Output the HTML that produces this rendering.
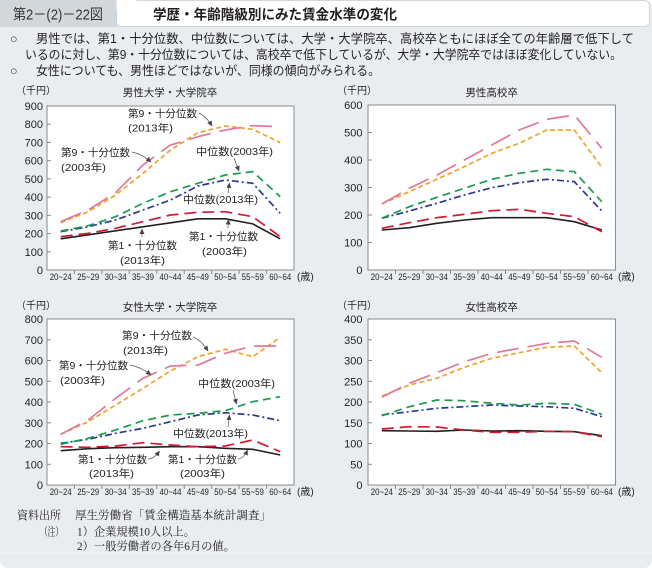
<!DOCTYPE html>
<html><head><meta charset="utf-8"><style>
html,body{margin:0;padding:0;background:#fff;}
svg{display:block;}
.jp{font-family:"Liberation Sans","Noto Sans CJK JP",sans-serif;}
.mc{font-family:"Liberation Serif","Noto Serif CJK SC",serif;}
.yl{font-family:"Liberation Sans",sans-serif;font-size:11px;fill:#231f20;text-anchor:end;}
.xl{font-family:"Liberation Sans",sans-serif;font-size:9px;fill:#231f20;text-anchor:middle;}
.an{font-family:"Liberation Sans","Noto Sans CJK JP",sans-serif;font-size:10.5px;fill:#231f20;}
.ti{font-family:"Liberation Sans","Noto Sans CJK JP",sans-serif;font-size:10.5px;fill:#231f20;text-anchor:middle;}
.un{font-family:"Liberation Sans","Noto Sans CJK JP",sans-serif;font-size:10px;fill:#231f20;}
.k{fill:none;stroke:#231f20;stroke-width:1.6;stroke-linejoin:round;}
.r{fill:none;stroke:#d4182f;stroke-width:1.7;stroke-dasharray:12 6;}
.b{fill:none;stroke:#2a3990;stroke-width:1.7;stroke-dasharray:7 3 2 3;}
.g{fill:none;stroke:#1a9b50;stroke-width:1.7;stroke-dasharray:8 5;}
.o{fill:none;stroke:#f0a330;stroke-width:1.7;stroke-dasharray:5 3;}
.p{fill:none;stroke:#e07a98;stroke-width:1.7;stroke-dasharray:22 9;}
.ax{fill:#fff;stroke:#8a8a8a;stroke-width:1;}
.tk{stroke:#8a8a8a;stroke-width:1;}
.ar{stroke:#555;stroke-width:0.7;fill:none;marker-end:url(#ah);}
</style></head><body>
<svg width="652" height="568" viewBox="0 0 652 568" xmlns="http://www.w3.org/2000/svg">
<defs>
<marker id="ah" markerWidth="6" markerHeight="6" refX="5" refY="3" orient="auto" markerUnits="userSpaceOnUse">
<path d="M0,0.5 L5.5,3 L0,5.5 Z" fill="#444"/>
</marker>
</defs>
<rect x="0" y="0" width="652" height="568" rx="8" fill="#e9edef"/>
<rect x="0" y="0" width="20" height="20" fill="#e9edef"/>
<rect x="0" y="0" width="117" height="27" fill="#d1d7da"/>
<rect x="116.5" y="0.5" width="533" height="26" rx="5" fill="#fff" stroke="#c9ced1" stroke-width="0.8"/>
<rect x="116.5" y="0" width="20" height="10" fill="#fff"/>
<text x="13" y="19.5" class="jp" font-size="14.5" fill="#333" textLength="90" lengthAdjust="spacingAndGlyphs">第2－(2)－22図</text>
<text x="153" y="19.5" class="jp" font-size="14" font-weight="bold" fill="#231f20" textLength="244" lengthAdjust="spacingAndGlyphs">学歴・年齢階級別にみた賃金水準の変化</text>

<g class="jp" font-size="12.5" fill="#231f20">
<text x="10" y="43">○</text>
<text x="36" y="43" textLength="598" lengthAdjust="spacingAndGlyphs">男性では、第1・十分位数、中位数については、大学・大学院卒、高校卒ともにほぼ全ての年齢層で低下して</text>
<text x="25" y="59" textLength="597" lengthAdjust="spacingAndGlyphs">いるのに対し、第9・十分位数については、高校卒で低下しているが、大学・大学院卒ではほぼ変化していない。</text>
<text x="10" y="75">○</text>
<text x="36" y="75" textLength="344" lengthAdjust="spacingAndGlyphs">女性についても、男性ほどではないが、同様の傾向がみられる。</text>
</g>

<!-- ============ TOP LEFT ============ -->
<rect class="ax" x="47" y="106" width="247" height="164"/>
<text class="un" x="16" y="94">（千円）</text>
<text class="ti" x="170" y="96">男性大学・大学院卒</text>
<g class="yl">
<text x="43" y="274">0</text><text x="43" y="255.8">100</text><text x="43" y="237.6">200</text><text x="43" y="219.3">300</text><text x="43" y="201.1">400</text><text x="43" y="182.9">500</text><text x="43" y="164.7">600</text><text x="43" y="146.5">700</text><text x="43" y="128.2">800</text><text x="43" y="110">900</text>
</g>
<g class="tk">
<line x1="47" x2="51" y1="251.8" y2="251.8"/><line x1="47" x2="51" y1="233.6" y2="233.6"/><line x1="47" x2="51" y1="215.3" y2="215.3"/><line x1="47" x2="51" y1="197.1" y2="197.1"/><line x1="47" x2="51" y1="178.9" y2="178.9"/><line x1="47" x2="51" y1="160.7" y2="160.7"/><line x1="47" x2="51" y1="142.5" y2="142.5"/><line x1="47" x2="51" y1="124.2" y2="124.2"/>
<line x1="74.4" x2="74.4" y1="270" y2="274"/><line x1="101.9" x2="101.9" y1="270" y2="274"/><line x1="129.3" x2="129.3" y1="270" y2="274"/><line x1="156.8" x2="156.8" y1="270" y2="274"/><line x1="184.2" x2="184.2" y1="270" y2="274"/><line x1="211.7" x2="211.7" y1="270" y2="274"/><line x1="239.1" x2="239.1" y1="270" y2="274"/><line x1="266.6" x2="266.6" y1="270" y2="274"/>
</g>
<g class="xl">
<text x="60.7" y="280" textLength="22" lengthAdjust="spacingAndGlyphs">20~24</text><text x="88.2" y="280" textLength="22" lengthAdjust="spacingAndGlyphs">25~29</text><text x="115.6" y="280" textLength="22" lengthAdjust="spacingAndGlyphs">30~34</text><text x="143" y="280" textLength="22" lengthAdjust="spacingAndGlyphs">35~39</text><text x="170.5" y="280" textLength="22" lengthAdjust="spacingAndGlyphs">40~44</text><text x="197.9" y="280" textLength="22" lengthAdjust="spacingAndGlyphs">45~49</text><text x="225.3" y="280" textLength="22" lengthAdjust="spacingAndGlyphs">50~54</text><text x="252.8" y="280" textLength="22" lengthAdjust="spacingAndGlyphs">55~59</text><text x="280.2" y="280" textLength="22" lengthAdjust="spacingAndGlyphs">60~64</text>
</g>
<text class="un" x="297" y="280">(歳)</text>
<polyline class="k" points="60.7,238.8 88.2,234.8 115.6,230.8 143,226.8 170.5,222.8 197.9,218.8 225.3,218.8 252.8,223.9 280.2,238.8"/>
<polyline class="r" points="60.7,236.7 88.2,233.3 115.6,228.3 143,221.7 170.5,215 197.9,212.3 225.3,211.7 252.8,216.7 280.2,236.7"/>
<polyline class="b" points="60.7,231.7 88.2,226.7 115.6,220 143,210 170.5,200 197.9,186 225.3,180 252.8,183.3 280.2,213.3"/>
<polyline class="g" points="60.7,231 88.2,225.7 115.6,216.7 143,203.3 170.5,191.7 197.9,183.3 225.3,175 252.8,171.7 280.2,196.7"/>
<polyline class="o" points="60.7,222.7 88.2,211.7 115.6,195 143,173.3 170.5,150 197.9,132.7 225.3,126 252.8,129.3 280.2,142.7"/>
<polyline class="p" points="60.7,221.7 88.2,210 115.6,192.7 143,165 170.5,145 197.9,136.7 225.3,130 252.8,125.7 280.2,126.7"/>
<g class="an">
<text x="128" y="117" textLength="69" lengthAdjust="spacingAndGlyphs">第9・十分位数</text>
<text x="128" y="131.5" textLength="45" lengthAdjust="spacingAndGlyphs">(2013年)</text>
<text x="61" y="156" textLength="69" lengthAdjust="spacingAndGlyphs">第9・十分位数</text>
<text x="61" y="171" textLength="45" lengthAdjust="spacingAndGlyphs">(2003年)</text>
<text x="196" y="155" textLength="77" lengthAdjust="spacingAndGlyphs">中位数(2003年)</text>
<text x="183" y="203" textLength="75" lengthAdjust="spacingAndGlyphs">中位数(2013年)</text>
<text x="108" y="249" textLength="69" lengthAdjust="spacingAndGlyphs">第1・十分位数</text>
<text x="120" y="264" textLength="45" lengthAdjust="spacingAndGlyphs">(2013年)</text>
<text x="189" y="240" textLength="69" lengthAdjust="spacingAndGlyphs">第1・十分位数</text>
<text x="202" y="255" textLength="45" lengthAdjust="spacingAndGlyphs">(2003年)</text>
</g>
<path class="ar" d="M199,113 Q206,116 212,126"/>
<path class="ar" d="M132,152 Q142,154 151,162"/>
<path class="ar" d="M234,158 L239,171"/>
<path class="ar" d="M228,193 L229.5,183"/>
<path class="ar" d="M142,237 L142,229"/>
<path class="ar" d="M228,228 L228.5,219.5"/>

<!-- ============ TOP RIGHT ============ -->
<rect class="ax" x="368" y="105" width="247.5" height="165"/>
<text class="un" x="337" y="94">（千円）</text>
<text class="ti" x="491.7" y="96">男性高校卒</text>
<g class="yl">
<text x="362.5" y="274">0</text><text x="362.5" y="246.5">100</text><text x="362.5" y="219">200</text><text x="362.5" y="191.5">300</text><text x="362.5" y="164">400</text><text x="362.5" y="136.5">500</text><text x="362.5" y="109">600</text>
</g>
<g class="tk">
<line x1="368" x2="372" y1="242.5" y2="242.5"/><line x1="368" x2="372" y1="215" y2="215"/><line x1="368" x2="372" y1="187.5" y2="187.5"/><line x1="368" x2="372" y1="160" y2="160"/><line x1="368" x2="372" y1="132.5" y2="132.5"/>
<line x1="395.5" x2="395.5" y1="270" y2="274"/><line x1="423" x2="423" y1="270" y2="274"/><line x1="450.5" x2="450.5" y1="270" y2="274"/><line x1="478" x2="478" y1="270" y2="274"/><line x1="505.5" x2="505.5" y1="270" y2="274"/><line x1="533" x2="533" y1="270" y2="274"/><line x1="560.5" x2="560.5" y1="270" y2="274"/><line x1="588" x2="588" y1="270" y2="274"/>
</g>
<g class="xl">
<text x="381.8" y="280" textLength="22" lengthAdjust="spacingAndGlyphs">20~24</text><text x="409.3" y="280" textLength="22" lengthAdjust="spacingAndGlyphs">25~29</text><text x="436.8" y="280" textLength="22" lengthAdjust="spacingAndGlyphs">30~34</text><text x="464.3" y="280" textLength="22" lengthAdjust="spacingAndGlyphs">35~39</text><text x="491.8" y="280" textLength="22" lengthAdjust="spacingAndGlyphs">40~44</text><text x="519.3" y="280" textLength="22" lengthAdjust="spacingAndGlyphs">45~49</text><text x="546.8" y="280" textLength="22" lengthAdjust="spacingAndGlyphs">50~54</text><text x="574.3" y="280" textLength="22" lengthAdjust="spacingAndGlyphs">55~59</text><text x="601.8" y="280" textLength="22" lengthAdjust="spacingAndGlyphs">60~64</text>
</g>
<text class="un" x="618" y="280">(歳)</text>
<polyline class="k" points="381.8,230 409.3,227.7 436.8,223.3 464.3,220 491.8,217.7 519.3,217.7 546.8,217.7 574.3,221.7 601.8,230"/>
<polyline class="r" points="381.8,228.3 409.3,222.7 436.8,217.7 464.3,214.3 491.8,210.7 519.3,209.3 546.8,213.3 574.3,216.7 601.8,231.7"/>
<polyline class="b" points="381.8,218.3 409.3,211 436.8,203.3 464.3,195 491.8,187.7 519.3,182.7 546.8,179.3 574.3,181.7 601.8,211"/>
<polyline class="g" points="381.8,218.3 409.3,206.7 436.8,197.3 464.3,188.3 491.8,179.3 519.3,173.3 546.8,169.3 574.3,171.7 601.8,201.7"/>
<polyline class="o" points="381.8,204 409.3,191.7 436.8,179.3 464.3,166.7 491.8,153.3 519.3,143.3 546.8,130 574.3,130 601.8,167.3"/>
<polyline class="p" points="381.8,204 409.3,188.3 436.8,175 464.3,160 491.8,145 519.3,130 546.8,119.3 574.3,115 601.8,148.3"/>

<!-- ============ BOTTOM LEFT ============ -->
<rect class="ax" x="47" y="319" width="247" height="166"/>
<text class="un" x="16" y="309">（千円）</text>
<text class="ti" x="170" y="310.5">女性大学・大学院卒</text>
<g class="yl">
<text x="43" y="489">0</text><text x="43" y="468.3">100</text><text x="43" y="447.5">200</text><text x="43" y="426.8">300</text><text x="43" y="406">400</text><text x="43" y="385.3">500</text><text x="43" y="364.5">600</text><text x="43" y="343.8">700</text><text x="43" y="323">800</text>
</g>
<g class="tk">
<line x1="47" x2="51" y1="464.3" y2="464.3"/><line x1="47" x2="51" y1="443.5" y2="443.5"/><line x1="47" x2="51" y1="422.8" y2="422.8"/><line x1="47" x2="51" y1="402" y2="402"/><line x1="47" x2="51" y1="381.3" y2="381.3"/><line x1="47" x2="51" y1="360.5" y2="360.5"/><line x1="47" x2="51" y1="339.8" y2="339.8"/>
<line x1="74.4" x2="74.4" y1="485" y2="489"/><line x1="101.9" x2="101.9" y1="485" y2="489"/><line x1="129.3" x2="129.3" y1="485" y2="489"/><line x1="156.8" x2="156.8" y1="485" y2="489"/><line x1="184.2" x2="184.2" y1="485" y2="489"/><line x1="211.7" x2="211.7" y1="485" y2="489"/><line x1="239.1" x2="239.1" y1="485" y2="489"/><line x1="266.6" x2="266.6" y1="485" y2="489"/>
</g>
<g class="xl">
<text x="60.7" y="495" textLength="22" lengthAdjust="spacingAndGlyphs">20~24</text><text x="88.2" y="495" textLength="22" lengthAdjust="spacingAndGlyphs">25~29</text><text x="115.6" y="495" textLength="22" lengthAdjust="spacingAndGlyphs">30~34</text><text x="143" y="495" textLength="22" lengthAdjust="spacingAndGlyphs">35~39</text><text x="170.5" y="495" textLength="22" lengthAdjust="spacingAndGlyphs">40~44</text><text x="197.9" y="495" textLength="22" lengthAdjust="spacingAndGlyphs">45~49</text><text x="225.3" y="495" textLength="22" lengthAdjust="spacingAndGlyphs">50~54</text><text x="252.8" y="495" textLength="22" lengthAdjust="spacingAndGlyphs">55~59</text><text x="280.2" y="495" textLength="22" lengthAdjust="spacingAndGlyphs">60~64</text>
</g>
<text class="un" x="297" y="495">(歳)</text>
<polyline class="k" points="60.7,450.7 88.2,448.7 115.6,447.7 143,447.3 170.5,446.7 197.9,446.7 225.3,448.3 252.8,449.3 280.2,455"/>
<polyline class="r" points="60.7,446.7 88.2,447.3 115.6,446 143,442.7 170.5,445 197.9,446.7 225.3,446 252.8,440 280.2,451.7"/>
<polyline class="b" points="60.7,443.3 88.2,439.3 115.6,433.3 143,428.3 170.5,421.7 197.9,415 225.3,412.7 252.8,415 280.2,420.7"/>
<polyline class="g" points="60.7,444.3 88.2,438.3 115.6,430 143,420.7 170.5,415 197.9,413.3 225.3,410.7 252.8,401.7 280.2,396.7"/>
<polyline class="o" points="60.7,434.3 88.2,421.7 115.6,405 143,388.3 170.5,371 197.9,356.7 225.3,349.3 252.8,356.7 280.2,337.3"/>
<polyline class="p" points="60.7,434.3 88.2,420 115.6,398.3 143,378.3 170.5,366 197.9,365 225.3,353.3 252.8,346 280.2,346"/>
<g class="an">
<text x="122" y="339" textLength="70" lengthAdjust="spacingAndGlyphs">第9・十分位数</text>
<text x="123" y="354" textLength="45" lengthAdjust="spacingAndGlyphs">(2013年)</text>
<text x="59" y="369" textLength="69" lengthAdjust="spacingAndGlyphs">第9・十分位数</text>
<text x="60" y="384" textLength="45" lengthAdjust="spacingAndGlyphs">(2003年)</text>
<text x="198" y="387" textLength="77" lengthAdjust="spacingAndGlyphs">中位数(2003年)</text>
<text x="173" y="437" textLength="75" lengthAdjust="spacingAndGlyphs">中位数(2013年)</text>
<text x="78" y="463" textLength="69" lengthAdjust="spacingAndGlyphs">第1・十分位数</text>
<text x="89" y="477" textLength="45" lengthAdjust="spacingAndGlyphs">(2013年)</text>
<text x="168" y="463" textLength="69" lengthAdjust="spacingAndGlyphs">第1・十分位数</text>
<text x="180" y="477" textLength="45" lengthAdjust="spacingAndGlyphs">(2003年)</text>
</g>
<path class="ar" d="M193,337 Q201,340 208,351"/>
<path class="ar" d="M130,365 Q141,367 151,375"/>
<path class="ar" d="M233,390 L236.5,404"/>
<path class="ar" d="M228,427 L229.5,415"/>
<path class="ar" d="M148,459 Q154,459 159.5,451"/>
<path class="ar" d="M238,459 Q244,458 247.5,450"/>

<!-- ============ BOTTOM RIGHT ============ -->
<rect class="ax" x="368" y="319" width="247.5" height="166"/>
<text class="un" x="337" y="309">（千円）</text>
<text class="ti" x="491.7" y="310.5">女性高校卒</text>
<g class="yl">
<text x="362.5" y="489">0</text><text x="362.5" y="468.3">50</text><text x="362.5" y="447.5">100</text><text x="362.5" y="426.8">150</text><text x="362.5" y="406">200</text><text x="362.5" y="385.3">250</text><text x="362.5" y="364.5">300</text><text x="362.5" y="343.8">350</text><text x="362.5" y="323">400</text>
</g>
<g class="tk">
<line x1="368" x2="372" y1="464.3" y2="464.3"/><line x1="368" x2="372" y1="443.5" y2="443.5"/><line x1="368" x2="372" y1="422.8" y2="422.8"/><line x1="368" x2="372" y1="402" y2="402"/><line x1="368" x2="372" y1="381.3" y2="381.3"/><line x1="368" x2="372" y1="360.5" y2="360.5"/><line x1="368" x2="372" y1="339.8" y2="339.8"/>
<line x1="395.5" x2="395.5" y1="485" y2="489"/><line x1="423" x2="423" y1="485" y2="489"/><line x1="450.5" x2="450.5" y1="485" y2="489"/><line x1="478" x2="478" y1="485" y2="489"/><line x1="505.5" x2="505.5" y1="485" y2="489"/><line x1="533" x2="533" y1="485" y2="489"/><line x1="560.5" x2="560.5" y1="485" y2="489"/><line x1="588" x2="588" y1="485" y2="489"/>
</g>
<g class="xl">
<text x="381.8" y="495" textLength="22" lengthAdjust="spacingAndGlyphs">20~24</text><text x="409.3" y="495" textLength="22" lengthAdjust="spacingAndGlyphs">25~29</text><text x="436.8" y="495" textLength="22" lengthAdjust="spacingAndGlyphs">30~34</text><text x="464.3" y="495" textLength="22" lengthAdjust="spacingAndGlyphs">35~39</text><text x="491.8" y="495" textLength="22" lengthAdjust="spacingAndGlyphs">40~44</text><text x="519.3" y="495" textLength="22" lengthAdjust="spacingAndGlyphs">45~49</text><text x="546.8" y="495" textLength="22" lengthAdjust="spacingAndGlyphs">50~54</text><text x="574.3" y="495" textLength="22" lengthAdjust="spacingAndGlyphs">55~59</text><text x="601.8" y="495" textLength="22" lengthAdjust="spacingAndGlyphs">60~64</text>
</g>
<text class="un" x="618" y="495">(歳)</text>
<polyline class="k" points="381.8,430.7 409.3,431 436.8,431.3 464.3,430 491.8,431 519.3,430.7 546.8,431.3 574.3,431.7 601.8,435.7"/>
<polyline class="r" points="381.8,429 409.3,426.7 436.8,427 464.3,430 491.8,432.3 519.3,432.3 546.8,431.3 574.3,431.7 601.8,436.7"/>
<polyline class="b" points="381.8,415 409.3,411.7 436.8,408.3 464.3,406.7 491.8,405 519.3,406 546.8,406.7 574.3,408.3 601.8,416.7"/>
<polyline class="g" points="381.8,415.7 409.3,406.7 436.8,400 464.3,400.7 491.8,403.3 519.3,405 546.8,403.3 574.3,404.3 601.8,414.3"/>
<polyline class="o" points="381.8,396 409.3,385 436.8,378.3 464.3,367.3 491.8,358.3 519.3,352.7 546.8,347.3 574.3,346 601.8,372.7"/>
<polyline class="p" points="381.8,397.3 409.3,383.3 436.8,372.7 464.3,361.7 491.8,353.3 519.3,348.3 546.8,343.3 574.3,341 601.8,357.3"/>

<!-- ============ FOOTER ============ -->
<g class="mc" font-size="11.5" fill="#231f20">
<text x="17" y="519" textLength="44" lengthAdjust="spacingAndGlyphs">資料出所</text>
<text x="75" y="519" textLength="196" lengthAdjust="spacingAndGlyphs">厚生労働省「賃金構造基本統計調査」</text>
<text x="40" y="535.5" textLength="23" lengthAdjust="spacingAndGlyphs">（注）</text>
<text x="77" y="535.5" textLength="118" lengthAdjust="spacingAndGlyphs">1）企業規模10人以上。</text>
<text x="77" y="550" textLength="158" lengthAdjust="spacingAndGlyphs">2）一般労働者の各年6月の値。</text>
</g>
<line x1="0" y1="553" x2="652" y2="553" stroke="#f4f6f7" stroke-width="1"/>
</svg>
</body></html>
